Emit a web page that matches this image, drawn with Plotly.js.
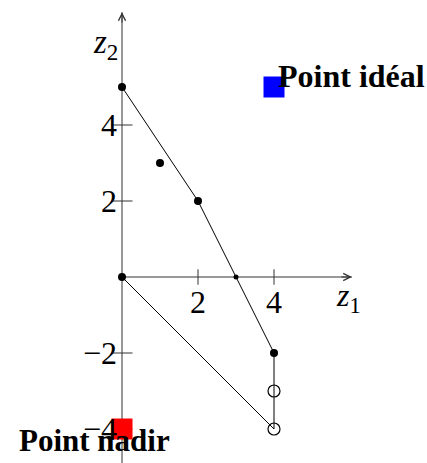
<!DOCTYPE html>
<html>
<head>
<meta charset="utf-8">
<script src="https://cdn.plot.ly/plotly-3.0.1.min.js"></script>
<style>
  html, body { margin: 0; padding: 0; background: #fff; }
  #chart { width: 427px; height: 463px; }
</style>
</head>
<body>
<div id="chart"></div>
<script>
// Feasible points in objective space (z1, z2)
const dotX = [0, 1, 2, 4, 0];
const dotY = [5, 3, 2, -2, 0];
// Point lying on an edge of the hull
const edgeX = [3];
const edgeY = [0];
// Dominated points marked with open circles
const openX = [4, 4];
const openY = [-3, -4];
// Boundary of the convex hull
const hullX = [0, 2, 4, 4, 0];
const hullY = [5, 2, -2, -4, 0];
// Reference points
const idealPt = [4, 5];
const nadirPt = [0, -4];
const idealLabel = "Point idéal";
const nadirLabel = "Point nadir";
// Axis ticks
const xTicks = [2, 4];
const xTickText = ["2", "4"];
const yTicks = [-4, -2, 2, 4];
const yTickText = ["\u22124", "\u22122", "2", "4"];
// Axis extents (arrow tips)
const xAxisEnd = 6.05;
const yAxisEnd = 6.97;

const W = 427, H = 463;
const pxPerUnit = 38;
const originPx = [122, 277];
const xRange = [-originPx[0] / pxPerUnit, (W - originPx[0]) / pxPerUnit];
const yRange = [-(H - originPx[1]) / pxPerUnit, originPx[1] / pxPerUnit];

const serif = "Liberation Serif";
const axisColor = "#333";

const traces = [
  // axis lines
  { x: [0, xAxisEnd], y: [0, 0], mode: "lines", line: { color: axisColor, width: 1 }, hoverinfo: "skip" },
  { x: [0, 0], y: [yRange[0], yAxisEnd], mode: "lines", line: { color: axisColor, width: 1 }, hoverinfo: "skip" },
  // tick marks crossing the axes
  { x: xTicks, y: xTicks.map(() => 0), mode: "markers",
    marker: { symbol: "line-ns", size: 11, line: { color: axisColor, width: 1 } }, hoverinfo: "skip" },
  { x: yTicks.map(() => 0), y: yTicks, mode: "markers",
    marker: { symbol: "line-ew", size: 15, line: { color: axisColor, width: 1 } }, hoverinfo: "skip" },
  // hull
  { x: hullX, y: hullY, mode: "lines", line: { color: "#000", width: 1 } },
  // reference squares
  { x: [idealPt[0]], y: [idealPt[1]], mode: "markers",
    marker: { symbol: "square", size: 21, color: "#0000ff" } },
  { x: [nadirPt[0]], y: [nadirPt[1]], mode: "markers",
    marker: { symbol: "square", size: 21, color: "#ff0000" } },
  // points
  { x: dotX, y: dotY, mode: "markers", marker: { size: 8, color: "#000" } },
  { x: edgeX, y: edgeY, mode: "markers", marker: { size: 5, color: "#000" } },
  { x: openX, y: openY, mode: "markers",
    marker: { size: 12, color: "rgba(0,0,0,0)", line: { color: "#000", width: 1.2 } } }
];

const layout = {
  width: W, height: H,
  margin: { l: 0, r: 0, t: 0, b: 0 },
  paper_bgcolor: "#fff", plot_bgcolor: "#fff",
  showlegend: false,
  font: { family: serif },
  xaxis: {
    range: xRange, domain: [0, 1], anchor: "free",
    position: (0 - yRange[0]) / (yRange[1] - yRange[0]),
    showgrid: false, zeroline: false, showline: false, ticks: "",
    tickvals: xTicks, ticktext: xTickText, ticklabelstandoff: 3,
    tickfont: { family: serif, size: 32, color: "#000" }, fixedrange: true
  },
  yaxis: {
    range: yRange, domain: [0, 1], anchor: "free",
    position: (0 - xRange[0]) / (xRange[1] - xRange[0]),
    showgrid: false, zeroline: false, showline: false, ticks: "",
    tickvals: yTicks, ticktext: yTickText, ticklabelstandoff: 5,
    tickfont: { family: serif, size: 32, color: "#000" }, fixedrange: true
  },
  annotations: [
    // arrow heads
    { x: xAxisEnd, y: 0, ax: -12, ay: 0, showarrow: true, arrowhead: 5, arrowsize: 1.4,
      arrowwidth: 1, arrowcolor: axisColor, text: "" },
    { x: 0, y: yAxisEnd, ax: 0, ay: 12, showarrow: true, arrowhead: 5, arrowsize: 1.4,
      arrowwidth: 1, arrowcolor: axisColor, text: "" },
    // axis titles
    { x: xAxisEnd, y: 0, xanchor: "left", yanchor: "middle", xshift: -18, yshift: -20,
      showarrow: false, text: "<i>z</i><sub>1</sub>", font: { family: serif, size: 32, color: "#000" } },
    { x: 0, y: yAxisEnd, xanchor: "right", yanchor: "middle", xshift: -2, yshift: -32,
      showarrow: false, text: "<i>z</i><sub>2</sub>", font: { family: serif, size: 33, color: "#000" } },
    // reference point labels
    { x: idealPt[0], y: idealPt[1], xanchor: "left", yanchor: "middle", xshift: 2, yshift: 11,
      showarrow: false, text: "<b>" + idealLabel + "</b>", font: { family: serif, size: 32, color: "#000" } },
    { x: nadirPt[0], y: nadirPt[1], xanchor: "left", yanchor: "middle", xshift: -105, yshift: -11,
      showarrow: false, text: "<b>" + nadirLabel + "</b>", font: { family: serif, size: 31, color: "#000" } }
  ]
};

Plotly.newPlot("chart", traces, layout, { displayModeBar: false, staticPlot: true });
</script>
</body>
</html>
